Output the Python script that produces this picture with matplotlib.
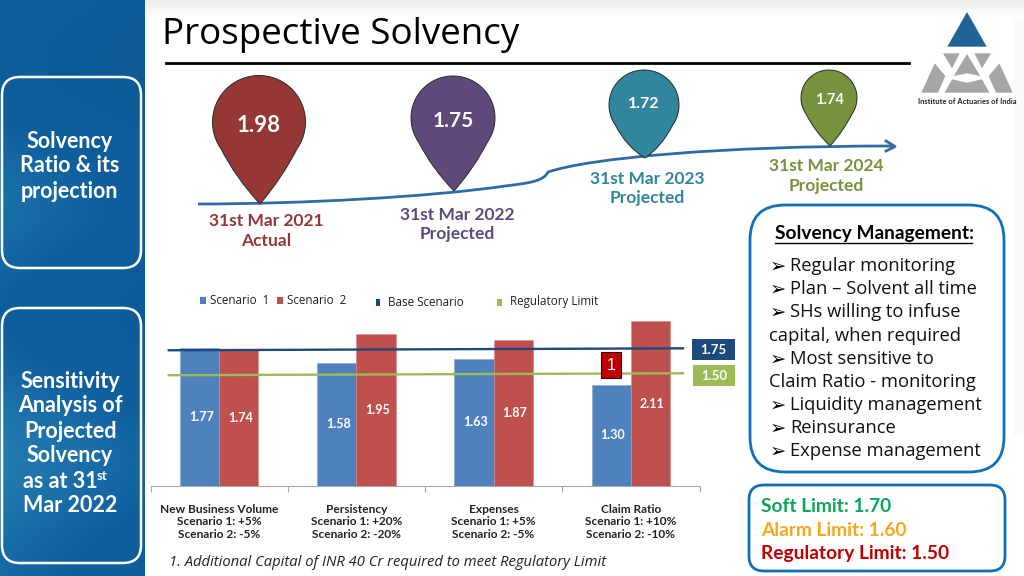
import numpy as np
import matplotlib
matplotlib.use('Agg')
import matplotlib.pyplot as plt
from matplotlib.path import Path
from matplotlib.patches import PathPatch, FancyBboxPatch, Polygon, Rectangle

plt.rcParams['font.family'] = ['Open Sans', 'DejaVu Sans']
BOLD = ['Lato', 'DejaVu Sans']

# timeline pins
pin_values = ['1.98', '1.75', '1.72', '1.74']
pin_dates = ['31st Mar 2021', '31st Mar 2022', '31st Mar 2023', '31st Mar 2024']
pin_status = ['Actual', 'Projected', 'Projected', 'Projected']

# sensitivity bars
categories = ['New Business Volume\nScenario 1: +5%\nScenario 2: -5%',
              'Persistency\nScenario 1: +20%\nScenario 2: -20%',
              'Expenses\nScenario 1: +5%\nScenario 2: -5%',
              'Claim Ratio\nScenario 1: +10%\nScenario 2: -10%']
scenario_1 = [1.77, 1.58, 1.63, 1.30]
scenario_2 = [1.74, 1.95, 1.87, 2.11]
# the two lines as they sit on the bar scale (drawn slightly sloped in the slide)
base_line = [1.74, 1.765]
reg_line = [1.42, 1.445]

bullets = ['Regular monitoring', 'Plan – Solvent all time', 'SHs willing to infuse',
           'capital, when required', 'Most sensitive to', 'Claim Ratio - monitoring',
           'Liquidity management', 'Reinsurance', 'Expense management']
bullet_marks = [1, 1, 1, 0, 1, 0, 1, 1, 1]
limits = ['Soft Limit: 1.70', 'Alarm Limit: 1.60', 'Regulatory Limit: 1.50']

fig = plt.figure(figsize=(10.24, 5.76), dpi=100)
bg = fig.add_axes([0, 0, 1, 1])
bg.set_xlim(0, 1024)
bg.set_ylim(576, 0)
bg.axis('off')

# faint grey fade along the top and right edge of the slide
fade = np.linspace(0.93, 1, 18).reshape(-1, 1)
bg.imshow(fade, extent=(145, 1024, 18, 0), cmap='gray', vmin=0, vmax=1, aspect='auto')
bg.add_patch(Rectangle((1013, 18), 11, 417, fc='#fafafa', ec='none'))

# left blue panel
yy, xx = np.mgrid[0:1:200j, 0:1:60j]
shade = 0.55 - 0.35 * yy + 0.3 * xx + 0.15 * np.sin(yy * 14)
bg.imshow(shade, extent=(0, 145, 576, 0), cmap=matplotlib.colors.LinearSegmentedColormap.from_list(
    'panel', ['#2a85b8', '#0f5f9e', '#0d5a96']), vmin=0, vmax=1, aspect='auto')
bg.set_xlim(0, 1024)
bg.set_ylim(576, 0)

for x0, y0, x1, y1 in [(2, 77, 141, 268), (2, 308, 141, 563)]:
    bg.add_patch(FancyBboxPatch((x0 + 18, y0 + 18), x1 - x0 - 36, y1 - y0 - 36,
                                boxstyle='round,pad=18,rounding_size=18',
                                fc='none', ec='white', lw=1.8))

side_1 = ['Solvency', 'Ratio & its', 'projection']
for i, line in enumerate(side_1):
    bg.text(70, 141 + 25 * i, line, color='white', fontsize=15.5, fontweight='bold', family=BOLD,
            ha='center', va='center')
side_2 = ['Sensitivity', 'Analysis of', 'Projected', 'Solvency', 'as at 31', 'Mar 2022']
for i, line in enumerate(side_2):
    x = 60 if line == 'as at 31' else 70
    bg.text(x, 381 + 25 * i, line, color='white', fontsize=15.5, fontweight='bold', family=BOLD,
            ha='center', va='center')
bg.text(97, 476, 'st', color='white', fontsize=9.5, fontweight='bold', family=BOLD, ha='left', va='center')

# title
bg.text(162, 35, 'Prospective Solvency', fontsize=26.5, color='black', ha='left', va='center')
bg.plot([166, 909], [63, 63], color='black', lw=2)

# timeline curve
curve = Path([(198, 204), (300, 204), (430, 197), (505, 186), (530, 183), (544, 181), (548, 172),
              (590, 158), (720, 146), (893, 146)],
             [Path.MOVETO] + [Path.CURVE4] * 9)
bg.add_patch(PathPatch(curve, fc='none', ec='#2f6ca6', lw=2))
bg.plot([886, 895, 886], [141, 146.5, 151], color='#2f6ca6', lw=2)


def draw_pin(cx, cy, r, tip, color):
    t = np.radians(np.linspace(-215, 35, 60))
    pts = np.column_stack([cx + r * np.cos(t), cy + r * np.sin(t)])
    verts = list(map(tuple, pts))
    codes = [Path.MOVETO] + [Path.LINETO] * (len(verts) - 1)
    # concave flanks running down to the tip
    verts += [(cx + r * 0.5, cy + r * 1.2), (cx + 1, tip), (cx - r * 0.5, cy + r * 1.2), tuple(pts[0])]
    codes += [Path.CURVE3] * 4
    bg.add_patch(PathPatch(Path(verts, codes), fc=color, ec='#2a2a2a', lw=0.7, zorder=3))


pin_x = [259, 453, 644, 829]
pin_y = [122, 118, 105, 98]
pin_r = [46.5, 42, 35, 28]
pin_tip = [204, 191, 158, 146]
pin_colors = ['#953735', '#5f497a', '#31859c', '#76923c']
pin_sizes = [16, 15, 11.5, 10.5]
value_y = [126, 121, 104, 100]
date_x = [266, 457, 647, 826]
date_y = [221, 215, 179, 166]
for i in range(4):
    draw_pin(pin_x[i], pin_y[i], pin_r[i], pin_tip[i], pin_colors[i])
    bg.text(pin_x[i], value_y[i], pin_values[i], color='white', fontsize=pin_sizes[i],
            fontweight='bold', family=BOLD, ha='center', va='center', zorder=4)
    bg.text(date_x[i], date_y[i], pin_dates[i], color=pin_colors[i], fontsize=12.5,
            fontweight='bold', family=BOLD, ha='center', va='center')
    bg.text(date_x[i], date_y[i] + 19.5, pin_status[i], color=pin_colors[i], fontsize=12.5,
            fontweight='bold', family=BOLD, ha='center', va='center')

# logo, outlined off the crop of the reference
logo_parts = [
    [(1365, 36), (1306, 140), (1424, 140)],
    [(1293, 160), (1343, 160), (1320, 205)],
    [(1387, 160), (1437, 160), (1410, 205)],
    [(1365, 162), (1325, 228), (1365, 220), (1405, 228)],
    [(1268, 190), (1228, 278), (1278, 278), (1300, 228)],
    [(1462, 190), (1502, 278), (1452, 278), (1430, 228)],
    [(1298, 278), (1320, 238), (1365, 248), (1410, 238), (1432, 278)],
]
for i, part in enumerate(logo_parts):
    pts = [(512 + px / 3, py / 3) for px, py in part]
    bg.add_patch(Polygon(pts, fc='#1f6397' if i == 0 else '#a6a6a6', ec='none'))
bg.text(967, 102, 'Institute of Actuaries of India', fontsize=5.4, fontweight='bold', family=BOLD,
        color='#222222', ha='center', va='center')

# bar chart, one data unit is 78 px
ax = fig.add_axes([150.5 / 1024, (576 - 486) / 576, 549 / 1024, 195 / 576])
ax.patch.set_alpha(0)
x = np.arange(len(categories))
w = 0.286
ax.bar(x - w / 2, scenario_1, w, color='#4f81bd', edgecolor='#7fa3cf', lw=0.4)
ax.bar(x + w / 2, scenario_2, w, color='#c0504d', edgecolor='#d58a88', lw=0.4)
ax.plot([-0.367, 3.38], base_line, color='#1f497d', lw=1.7)
ax.plot([-0.367, 3.38], reg_line, color='#9bbb59', lw=1.7)
for i in range(len(categories)):
    ax.text(x[i] - w / 2 + 0.012, scenario_1[i] / 2, f'{scenario_1[i]:.2f}', color='white',
            fontsize=9, fontweight='bold', family=BOLD, ha='center', va='center')
    ax.text(x[i] + w / 2 + 0.012, scenario_2[i] / 2, f'{scenario_2[i]:.2f}', color='white',
            fontsize=9, fontweight='bold', family=BOLD, ha='center', va='center')
ax.set_xlim(-0.5, 3.5)
ax.set_ylim(0, 2.5)
ax.set_yticks([])
for s in ['top', 'left', 'right']:
    ax.spines[s].set_visible(False)
ax.spines['bottom'].set_color('#a6a6a6')
ax.set_xticks(np.arange(-0.5, 4, 1))
ax.set_xticklabels([])
ax.tick_params(axis='x', which='major', length=4, color='#a6a6a6', direction='out')
ax.set_xticks(x, minor=True)
ax.set_xticklabels(categories, minor=True, fontsize=8.6, fontweight='bold', family=BOLD,
                   color='#222222', linespacing=1.15)
ax.tick_params(axis='x', which='minor', length=0, pad=13)

# legend, spaced by hand like the slide
legend_items = ['Scenario  1', 'Scenario  2', 'Base Scenario', 'Regulatory Limit']
legend_box_x = [200, 277, 376, 497]
legend_box_w = [6, 6, 4, 5]
legend_text_x = [210, 287, 388, 510]
legend_text_y = [300, 300, 302, 302]
legend_colors = ['#4f81bd', '#c0504d', '#1f497d', '#9bbb59']
for i in range(4):
    bg.add_patch(Rectangle((legend_box_x[i], legend_text_y[i] - 3.5), legend_box_w[i], 7, fc=legend_colors[i], ec='none'))
    bg.text(legend_text_x[i], legend_text_y[i], legend_items[i], fontsize=8.4, color='#222222', ha='left', va='center')

# end labels of the two lines and the red note marker
over = fig.add_axes([0, 0, 1, 1])
over.set_xlim(0, 1024)
over.set_ylim(576, 0)
over.axis('off')
over.add_patch(Rectangle((692, 339), 43, 21, fc='#1f497d', ec='none'))
over.text(713.5, 350, '1.75', color='white', fontsize=9.5, fontweight='bold', family=BOLD, ha='center', va='center')
over.add_patch(Rectangle((693, 365), 42, 21, fc='#9bbb59', ec='none'))
over.text(714, 376, '1.50', color='white', fontsize=9.5, fontweight='bold', family=BOLD, ha='center', va='center')
over.add_patch(Rectangle((601, 352), 20, 26, fc='#c00000', ec='#3a0000', lw=0.8))
over.text(611, 366, '1', color='white', fontsize=11.5, family='Liberation Sans', ha='center', va='center')

over.text(169, 563, '1. Additional Capital of INR 40 Cr required to meet Regulatory Limit',
          fontsize=10.6, style='italic', color='#222222', ha='left', va='center')

# solvency management box
over.add_patch(FancyBboxPatch((785, 240), 184, 197, boxstyle='round,pad=35,rounding_size=35',
                              fc='white', ec='#1070b8', lw=2))
over.text(775, 233, 'Solvency Management:', fontsize=13.8, fontweight='bold', family=BOLD, color='black',
          ha='left', va='center')
over.plot([775, 972], [243, 243], color='black', lw=1)
bullet_y = [266, 289, 312, 336, 359, 382, 405, 428, 451]
for i, line in enumerate(bullets):
    if bullet_marks[i]:
        over.text(770, bullet_y[i], '➢', fontsize=14, color='black', family='DejaVu Sans', ha='left', va='center')
        over.text(790, bullet_y[i], line, fontsize=13.2, color='#111111', ha='left', va='center')
    else:
        over.text(769, bullet_y[i], line, fontsize=13.2, color='#111111', ha='left', va='center')

# limits box
over.add_patch(FancyBboxPatch((764, 500), 226, 56, boxstyle='round,pad=15,rounding_size=15',
                              fc='white', ec='#1070b8', lw=2))
limit_y = [506, 530, 553]
limit_colors = ['#0aa55a', '#f5a81c', '#c00000']
for i, line in enumerate(limits):
    over.text(761, limit_y[i], line, fontsize=13.8, fontweight='bold', family=BOLD, color=limit_colors[i],
              ha='left', va='center')

fig.savefig('out.png', dpi=100)
